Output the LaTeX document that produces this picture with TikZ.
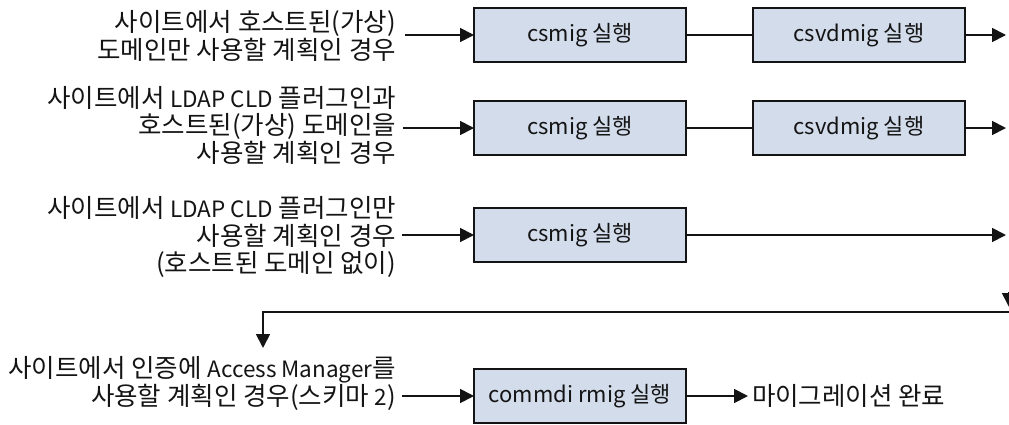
\documentclass[tikz,border=0pt]{standalone}
\usepackage{fontspec}
\setmainfont{Noto Sans CJK KR}
\usetikzlibrary{arrows.meta}
\definecolor{boxfill}{RGB}{211,220,235}
\definecolor{ink}{RGB}{20,20,20}
% Latin runs inside the Korean labels are set a little smaller
\newcommand{\lat}[1]{{\fontsize{22.5}{27.5}\selectfont #1}}
\begin{document}
\begin{tikzpicture}[x=1pt,y=-1pt,
  every node/.style={inner sep=0pt,outer sep=0pt,text=ink},
  stepbox/.style={draw=ink,line width=2pt,fill=boxfill,minimum width=212pt,minimum height=54pt,
    font=\fontsize{22}{25}\selectfont},
  cond/.style={anchor=east,align=right,font=\fontsize{25.5}{27.5}\selectfont},
  flow/.style={draw=ink,line width=1.8pt},
  tip/.style={flow,-{Triangle[length=14pt,width=14pt]}}]
\useasboundingbox (0,0) rectangle (1009,424);

% condition labels
\node[cond] (c1) at (396,36) {사이트에서 호스트된(가상)\\도메인만 사용할 계획인 경우};
\node[cond] (c2) at (396,125) {사이트에서 \lat{LDAP CLD} 플러그인과\\호스트된(가상) 도메인을\\사용할 계획인 경우};
\node[cond] (c3) at (396,237) {사이트에서 \lat{LDAP CLD} 플러그인만\\사용할 계획인 경우\\(호스트된 도메인 없이)};
\node[cond,font=\fontsize{25.5}{25.5}\selectfont] (c4) at (396,383) {사이트에서 인증에 \lat{Access Manager}를\\사용할 계획인 경우(스키마 \lat{2})};

% steps
\node[stepbox] (a1) at (580,35) {csmig 실행};
\node[stepbox] (b1) at (859,35) {csvdmig 실행};
\node[stepbox] (a2) at (580,128) {csmig 실행};
\node[stepbox] (b2) at (859,128) {csvdmig 실행};
\node[stepbox] (a3) at (580,235) {csmig 실행};
\node[stepbox] (a4) at (580,396) {commdi rmig 실행};
\node[anchor=west,font=\fontsize{25.5}{27}\selectfont] (done) at (752,396) {마이그레이션 완료};

% connector end points
\coordinate (s1) at (405,35);
\coordinate (s2) at (403,128);
\coordinate (s3) at (402,235);
\coordinate (s4) at (402,396);
\coordinate (e1) at (1006,35);
\coordinate (e2) at (1006,128);
\coordinate (e3) at (1006,235);
\coordinate (wrapR) at (1012,312);
\coordinate (wrapL) at (263,312);
\coordinate (wrapD) at (263,348);
\coordinate (topT) at (1009,292);
\coordinate (topB) at (1009,307);

% connectors
\draw[tip] (s1) -- (a1);
\draw[flow] (a1) -- (b1);
\draw[tip] (b1) -- (e1);
\draw[tip] (s2) -- (a2);
\draw[flow] (a2) -- (b2);
\draw[tip] (b2) -- (e2);
\draw[tip] (s3) -- (a3);
\draw[tip] (a3) -- (e3);
\draw[tip] (topT) -- (topB);
\draw[tip] (wrapR) -- (wrapL) -- (wrapD);
\draw[tip] (s4) -- (a4);
\draw[tip,shorten >=4pt] (a4) -- (done);
\end{tikzpicture}
\end{document}
